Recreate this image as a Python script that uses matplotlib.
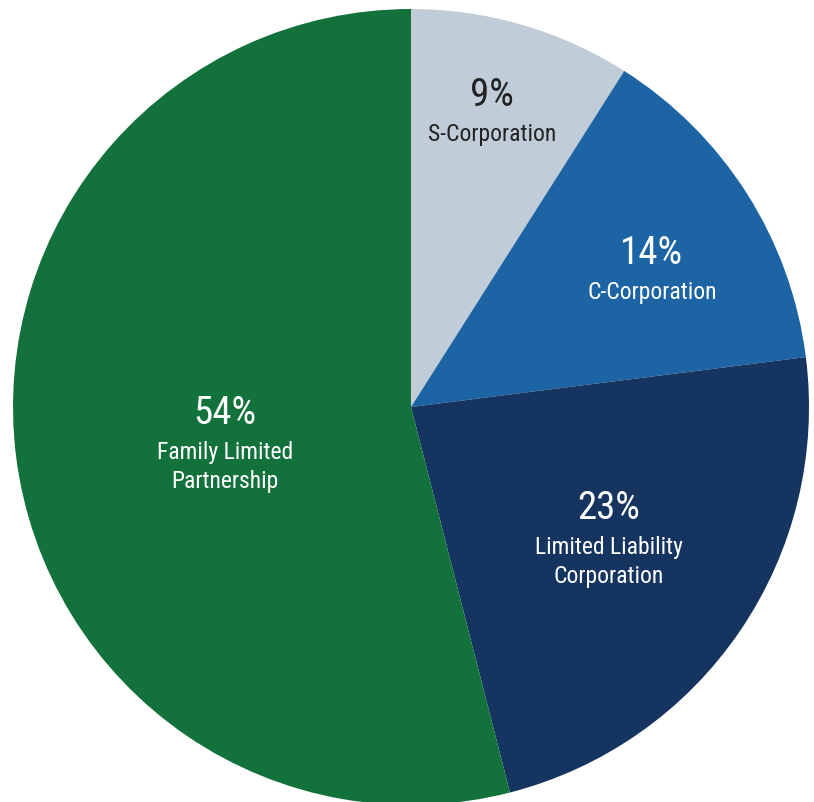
import numpy as np
import matplotlib.pyplot as plt

# ownership structure shares
labels = ["S-Corporation", "C-Corporation", "Limited Liability\nCorporation",
          "Family Limited\nPartnership"]
shares = [9, 14, 23, 54]
colors = ["#c0ccd8", "#1d64a5", "#153460", "#13723c"]
label_dist = [0.819, 0.724, 0.555, 0.467]
label_ang_shift = [1.8, 0.85, 7.9, -6.5]
text_colors = ["#222222", "white", "white", "white"]

fam = ["Roboto Condensed", "Liberation Sans Narrow", "Roboto", "DejaVu Sans"]

W, H = 814, 803
cx, cy, R = 411, 408, 398
fig = plt.figure(figsize=(W / 100, H / 100), dpi=100)
ax = fig.add_axes([(cx - R) / W, (H - cy - R) / H, 2 * R / W, 2 * R / H])
ax.axis("off")

wedges, _ = ax.pie(shares, colors=colors, startangle=90, counterclock=False,
                   radius=1, wedgeprops=dict(linewidth=0))
ax.set_xlim(-1, 1)
ax.set_ylim(-1, 1)
ax.set_aspect("auto")

for w, lab, s, d, da, tc in zip(wedges, labels, shares, label_dist,
                                label_ang_shift, text_colors):
    ang = np.deg2rad((w.theta1 + w.theta2) / 2 + da)
    x, y = d * np.cos(ang), d * np.sin(ang)
    ax.annotate(f"{s}%", (x, y), xytext=(0, -3), textcoords="offset pixels",
                ha="center", va="center", fontsize=28, color=tc, family=fam)
    for i, line in enumerate(lab.split("\n")):
        ax.annotate(line, (x, y), xytext=(0, -42 - 29 * i),
                    textcoords="offset pixels", ha="center", va="center",
                    fontsize=17, color=tc, family=fam)

fig.savefig("out.png", dpi=100)
